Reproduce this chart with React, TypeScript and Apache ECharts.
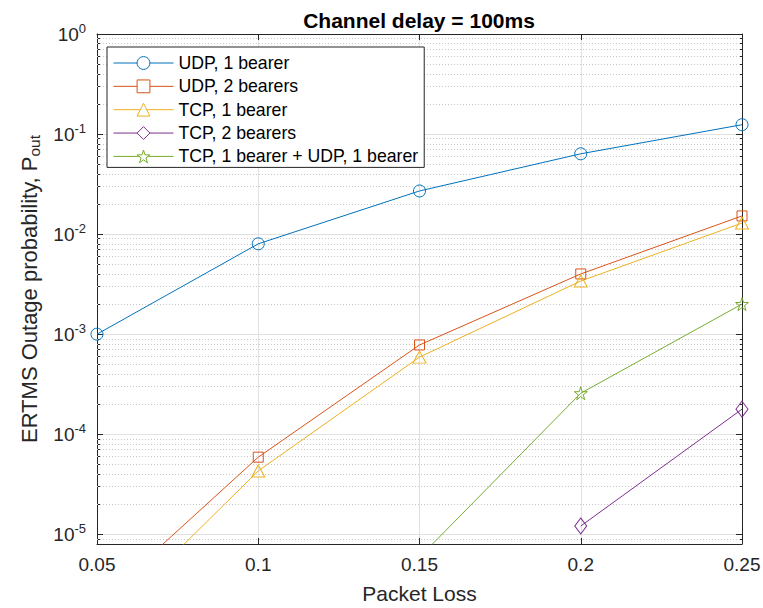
import React, { useEffect, useRef } from 'react';
import * as echarts from 'echarts';

const packetLoss = [0.05, 0.1, 0.15, 0.2, 0.25];
const udp1Bearer = [1.0e-3, 8.0e-3, 2.7e-2, 6.35e-2, 1.24e-1];
const udp2Bearers = [2.0e-6, 5.9e-5, 7.8e-4, 4.0e-3, 1.52e-2];
const tcp1Bearer = [1.1e-6, 4.3e-5, 5.9e-4, 3.4e-3, 1.29e-2];
const tcp2Bearers: (number | null)[] = [null, null, null, 1.21e-5, 1.78e-4];
const tcpUdpMixed: (number | null)[] = [null, null, 5.9e-6, 2.57e-4, 2.0e-3];

const seriesNames = [
  'UDP, 1 bearer',
  'UDP, 2 bearers',
  'TCP, 1 bearer',
  'TCP, 2 bearers',
  'TCP, 1 bearer + UDP, 1 bearer',
];
const seriesColors = ['#0072BD', '#D95319', '#EDB120', '#7E2F8E', '#77AC30'];
const yDecades = [1e-5, 1e-4, 1e-3, 1e-2, 1e-1];
const minorMultipliers = [2, 3, 4, 5, 6, 7, 8, 9];
const yMin = 8e-6;
const yMax = 1;

const STAR =
  'path://M50,0L61.23,34.55L97.55,34.55L68.17,55.9L79.39,90.45L50,69.1L20.61,90.45L31.83,55.9L2.45,34.55L38.77,34.55Z';
const symbols = ['circle', 'rect', 'triangle', 'diamond', STAR];
const symbolSizes: any[] = [12, 10, [13, 12], [12, 16], 13];

const FONT = '"Liberation Sans", Arial, Helvetica, sans-serif';
const AX = '#262626';

function pairs(ys: (number | null)[]) {
  const out: [number, number][] = [];
  ys.forEach((y, i) => {
    if (y !== null) out.push([packetLoss[i], y]);
  });
  return out;
}

export default function App() {
  const ref = useRef<HTMLDivElement>(null);
  useEffect(() => {
    document.body.style.margin = '0';
    if (!ref.current) return;
    const chart = echarts.init(ref.current, undefined, { renderer: 'svg' });
    const allData = [udp1Bearer, udp2Bearers, tcp1Bearer, tcp2Bearers, tcpUdpMixed];

    const minorGrid: any[] = [{ yAxis: 9e-6 }];
    yDecades.forEach((d) => minorMultipliers.forEach((m) => minorGrid.push({ yAxis: d * m })));

    const series: any[] = allData.map((d, i) => ({
      name: seriesNames[i],
      type: 'line',
      data: pairs(d),
      symbol: symbols[i],
      symbolSize: symbolSizes[i],
      showSymbol: true,
      clip: true,
      z: 3,
      lineStyle: { color: seriesColors[i], width: 1 },
      itemStyle: { color: 'rgba(255,255,255,0)', borderColor: seriesColors[i], borderWidth: 1 },
      emphasis: { disabled: true },
    }));
    series[0].markLine = {
      silent: true,
      z: 1,
      precision: 20,
      symbol: ['none', 'none'],
      label: { show: false },
      emphasis: { disabled: true },
      lineStyle: { type: [1, 2], color: '#c8c8c8', width: 1 },
      data: minorGrid,
    };

    const yLabelFmt = (v: number) => {
      const e = Math.log10(v);
      const r = Math.round(e);
      if (Math.abs(e - r) > 1e-6) return '';
      return `{b|10}{s|${r}}`;
    };

    chart.setOption({
      animation: false,
      title: {
        text: 'Channel delay = 100ms',
        left: 419,
        top: 10,
        padding: 0,
        textAlign: 'center',
        textStyle: { fontFamily: FONT, fontSize: 21, fontWeight: 'bold', color: '#000' },
      },
      legend: {
        orient: 'vertical',
        left: 107,
        top: 47,
        padding: [7, 6, 2, 6],
        itemGap: 5.35,
        itemWidth: 60,
        itemHeight: 16,
        backgroundColor: '#fff',
        borderColor: AX,
        borderWidth: 1,
        selectedMode: false,
        textStyle: { fontFamily: FONT, fontSize: 17.7, color: '#000', lineHeight: 18 },
        data: seriesNames.map((n, i) => ({
          name: n,
          itemStyle: { color: '#fff', borderColor: seriesColors[i], borderWidth: 1 },
          lineStyle: { color: seriesColors[i], width: 1 },
        })),
      },
      grid: { left: 97, right: 21, top: 34, bottom: 64, containLabel: false, outerBoundsMode: 'none' },
      xAxis: [
        {
          type: 'value',
          min: 0.05,
          max: 0.25,
          interval: 0.05,
          position: 'bottom',
          name: 'Packet Loss',
          nameLocation: 'middle',
          nameGap: 39,
          nameMoveOverlap: false,
          nameTextStyle: { fontFamily: FONT, fontSize: 21, color: AX },
          axisLine: { show: true, lineStyle: { color: AX, width: 1 } },
          axisTick: { show: true, inside: true, length: 6, lineStyle: { color: AX } },
          axisLabel: { fontFamily: FONT, fontSize: 19, color: AX, margin: 11 },
          splitLine: { show: true, lineStyle: { color: '#e0e0e0', width: 1 } },
        },
        {
          type: 'value',
          min: 0.05,
          max: 0.25,
          interval: 0.05,
          position: 'top',
          axisLine: { show: true, lineStyle: { color: AX, width: 1 } },
          axisTick: { show: true, inside: true, length: 6, lineStyle: { color: AX } },
          axisLabel: { show: false },
          splitLine: { show: false },
        },
      ],
      yAxis: [
        {
          type: 'log',
          logBase: 10,
          min: yMin,
          max: yMax,
          position: 'left',
          name: 'ERTMS Outage probability, P{sub|out}',
          nameLocation: 'middle',
          nameGap: 55,
          nameMoveOverlap: false,
          nameTextStyle: {
            fontFamily: FONT,
            fontSize: 22,
            color: AX,
            rich: { sub: { fontFamily: FONT, fontSize: 15.5, color: AX, padding: [10, 0, 0, 0] } },
          },
          axisLine: { show: true, lineStyle: { color: AX, width: 1 } },
          axisTick: { show: true, inside: true, length: 6, lineStyle: { color: AX } },
          minorTick: { show: true, splitNumber: 9, length: 3, lineStyle: { color: AX } },
          axisLabel: {
            formatter: yLabelFmt,
            margin: 11,
            showMinLabel: false,
            rich: {
              b: { fontFamily: FONT, fontSize: 19, color: AX },
              s: { fontFamily: FONT, fontSize: 13, color: AX, padding: [0, 0, 12, 0] },
            },
          },
          splitLine: { show: true, lineStyle: { color: '#e0e0e0', width: 1 } },
        },
        {
          type: 'log',
          logBase: 10,
          min: yMin,
          max: yMax,
          position: 'right',
          axisLine: { show: true, lineStyle: { color: AX, width: 1 } },
          axisTick: { show: true, inside: true, length: 6, lineStyle: { color: AX } },
          minorTick: { show: true, splitNumber: 9, length: 3, lineStyle: { color: AX } },
          axisLabel: { show: false },
          splitLine: { show: false },
        },
      ],
      series,
    });
    return () => chart.dispose();
  }, []);
  return <div ref={ref} style={{ width: 763, height: 608 }} />;
}
